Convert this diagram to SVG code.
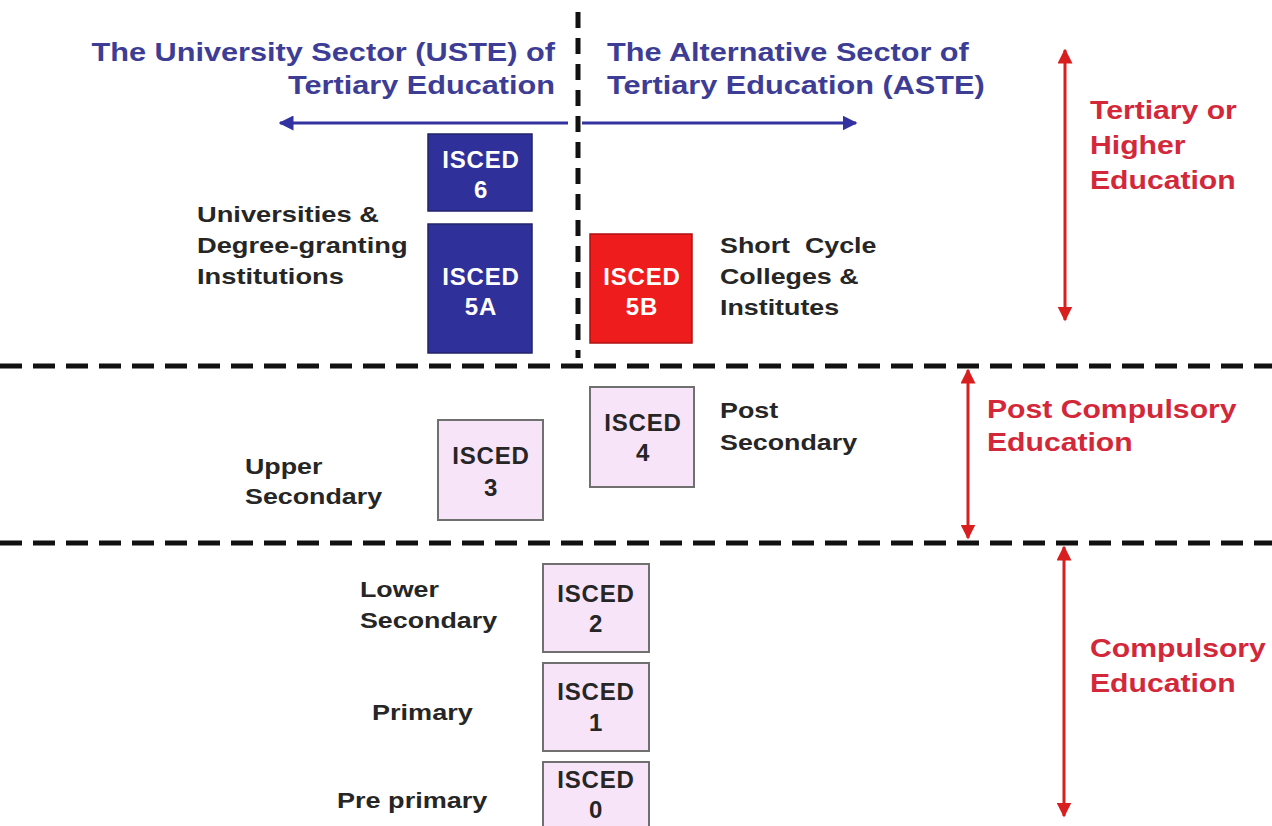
<svg xmlns="http://www.w3.org/2000/svg" width="1272" height="826" viewBox="0 0 1272 826">
<defs>
<style>
.title{font-family:"Liberation Sans",Arial,sans-serif;font-weight:bold;font-size:26px;fill:#3d3d96}
.side{font-family:"Liberation Sans",Arial,sans-serif;font-weight:bold;font-size:26px;fill:#d2283a}
.lab{font-family:"Liberation Sans",Arial,sans-serif;font-weight:bold;font-size:22px;fill:#262626}
.bt{font-family:"Liberation Sans",Arial,sans-serif;font-weight:bold;font-size:24px;text-anchor:middle;letter-spacing:0.8px}
.w{fill:#ffffff}
.k{fill:#262626}
.blue{fill:#30309a;stroke:#22226a;stroke-width:1.5}
.red{fill:#ee1c1c;stroke:#b01010;stroke-width:1.5}
.pink{fill:#f8e4f8;stroke:#707070;stroke-width:2}
.dash{stroke:#111;stroke-width:5;stroke-dasharray:22 11;fill:none}
.vdash{stroke:#111;stroke-width:5;stroke-dasharray:16 10;fill:none}
.barrow{stroke:#3232a0;stroke-width:3;fill:none}
.rarrow{stroke:#d81e1e;stroke-width:3;fill:none}
</style>
<marker id="ab" viewBox="0 0 10 10" refX="9" refY="5" markerWidth="5" markerHeight="5" orient="auto-start-reverse"><path d="M0,0 L10,5 L0,10 z" fill="#3232a0"/></marker>
<marker id="ar" viewBox="0 0 10 10" refX="9" refY="5" markerWidth="5" markerHeight="5" orient="auto-start-reverse"><path d="M0,0 L10,5 L0,10 z" fill="#d81e1e"/></marker>
</defs>
<rect width="1272" height="826" fill="#ffffff"/>

<g id="connectors">
<line class="vdash" x1="578" y1="12" x2="578" y2="358"/>
<line class="dash" x1="0" y1="366" x2="1272" y2="366"/>
<line class="dash" x1="0" y1="543" x2="1272" y2="543"/>
<line class="barrow" x1="568" y1="123" x2="280" y2="123" marker-end="url(#ab)"/>
<line class="barrow" x1="582" y1="123" x2="856" y2="123" marker-end="url(#ab)"/>
<line class="rarrow" x1="1065" y1="50" x2="1065" y2="320" marker-start="url(#ar)" marker-end="url(#ar)"/>
<line class="rarrow" x1="968" y1="370" x2="968" y2="538" marker-start="url(#ar)" marker-end="url(#ar)"/>
<line class="rarrow" x1="1064" y1="547" x2="1064" y2="816" marker-start="url(#ar)" marker-end="url(#ar)"/>
</g>

<g id="title-uste" transform="matrix(1.18,0,0,1,-99.9,0)">
<text class="title" x="555" y="61" text-anchor="end">The University Sector (USTE) of</text>
<text class="title" x="555" y="94" text-anchor="end">Tertiary Education</text>
</g>
<g id="title-aste" transform="matrix(1.18,0,0,1,-109.26,0)">
<text class="title" x="607" y="61">The Alternative Sector of</text>
<text class="title" x="607" y="94">Tertiary Education (ASTE)</text>
</g>

<g id="side-tertiary" transform="matrix(1.16,0,0,1,-174.4,0)">
<text class="side" x="1090" y="119">Tertiary or</text>
<text class="side" x="1090" y="154">Higher</text>
<text class="side" x="1090" y="189">Education</text>
</g>
<g id="side-post" transform="matrix(1.16,0,0,1,-157.92,0)">
<text class="side" x="987" y="418">Post Compulsory</text>
<text class="side" x="987" y="451">Education</text>
</g>
<g id="side-compulsory" transform="matrix(1.16,0,0,1,-174.4,0)">
<text class="side" x="1090" y="657">Compulsory</text>
<text class="side" x="1090" y="692">Education</text>
</g>

<g id="isced6">
<rect class="blue" x="428" y="134" width="104" height="77"/>
<text class="bt w" x="481" y="168">ISCED</text>
<text class="bt w" x="481" y="198">6</text>
</g>
<g id="isced5a">
<rect class="blue" x="428" y="224" width="104" height="129"/>
<text class="bt w" x="481" y="285">ISCED</text>
<text class="bt w" x="481" y="315">5A</text>
</g>
<g id="label-universities" transform="matrix(1.24,0,0,1,-47.28,0)">
<text class="lab" x="197" y="222">Universities &amp;</text>
<text class="lab" x="197" y="253">Degree-granting</text>
<text class="lab" x="197" y="284">Institutions</text>
</g>
<g id="isced5b">
<rect class="red" x="590" y="234" width="102" height="109"/>
<text class="bt w" x="642" y="285">ISCED</text>
<text class="bt w" x="642" y="315">5B</text>
</g>
<g id="label-shortcycle" transform="matrix(1.22,0,0,1,-158.4,0)">
<text class="lab" x="720" y="253" xml:space="preserve">Short  Cycle</text>
<text class="lab" x="720" y="284">Colleges &amp;</text>
<text class="lab" x="720" y="315">Institutes</text>
</g>

<g id="isced4">
<rect class="pink" x="590" y="387" width="104" height="100"/>
<text class="bt k" x="643" y="431">ISCED</text>
<text class="bt k" x="643" y="461">4</text>
</g>
<g id="label-post" transform="matrix(1.22,0,0,1,-158.4,0)">
<text class="lab" x="720" y="418">Post</text>
<text class="lab" x="720" y="450">Secondary</text>
</g>
<g id="isced3">
<rect class="pink" x="438" y="420" width="105" height="100"/>
<text class="bt k" x="491" y="464">ISCED</text>
<text class="bt k" x="491" y="496">3</text>
</g>
<g id="label-upper" transform="matrix(1.22,0,0,1,-53.9,0)">
<text class="lab" x="245" y="474">Upper</text>
<text class="lab" x="245" y="504">Secondary</text>
</g>

<g id="isced2">
<rect class="pink" x="543" y="564" width="106" height="88"/>
<text class="bt k" x="596" y="602">ISCED</text>
<text class="bt k" x="596" y="632">2</text>
</g>
<g id="label-lower" transform="matrix(1.22,0,0,1,-79.2,0)">
<text class="lab" x="360" y="597">Lower</text>
<text class="lab" x="360" y="628">Secondary</text>
</g>
<g id="isced1">
<rect class="pink" x="543" y="663" width="106" height="88"/>
<text class="bt k" x="596" y="700">ISCED</text>
<text class="bt k" x="596" y="731">1</text>
</g>
<g id="label-primary" transform="matrix(1.23,0,0,1,-85.56,0)">
<text class="lab" x="372" y="720">Primary</text>
</g>
<g id="isced0">
<rect class="pink" x="543" y="762" width="106" height="70"/>
<text class="bt k" x="596" y="788">ISCED</text>
<text class="bt k" x="596" y="818">0</text>
</g>
<g id="label-preprimary" transform="matrix(1.23,0,0,1,-77.51,0)">
<text class="lab" x="337" y="808">Pre primary</text>
</g>
</svg>
